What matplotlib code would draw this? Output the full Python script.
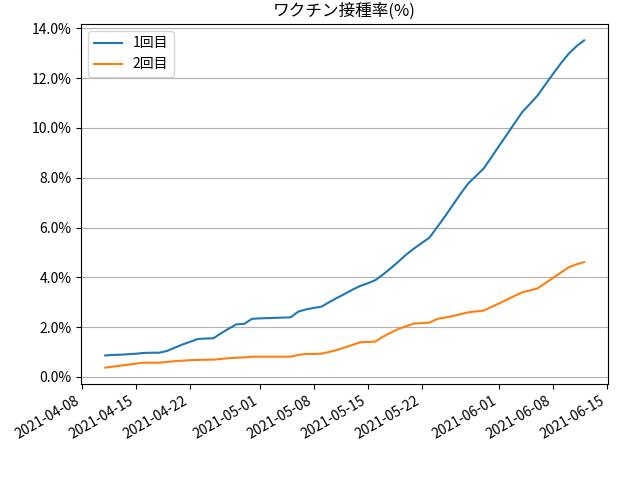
import pandas as pd
import matplotlib
matplotlib.use('Agg')
import matplotlib.pyplot as plt
from matplotlib.ticker import PercentFormatter

plt.rcParams['font.family'] = ['Noto Sans CJK JP', 'DejaVu Sans']

dates = pd.date_range('2021-04-11', '2021-06-12', freq='D')

# 接種率 (%)
first_dose = [
    0.86, 0.88, 0.89, 0.91, 0.93, 0.96, 0.97, 0.97, 1.04, 1.17,
    1.30, 1.41, 1.52, 1.54, 1.55, 1.75, 1.94, 2.11, 2.13, 2.33,
    2.35, 2.36, 2.37, 2.38, 2.39, 2.62, 2.71, 2.77, 2.82, 3.00,
    3.17, 3.33, 3.50, 3.65, 3.76, 3.89, 4.12, 4.37, 4.64, 4.92,
    5.16, 5.38, 5.60, 6.02, 6.45, 6.90, 7.35, 7.77, 8.07, 8.37,
    8.82, 9.28, 9.73, 10.19, 10.64, 10.97, 11.31, 11.75, 12.18, 12.60,
    12.98, 13.28, 13.52,
]
second_dose = [
    0.37, 0.41, 0.45, 0.49, 0.53, 0.57, 0.57, 0.57, 0.60, 0.63,
    0.65, 0.67, 0.68, 0.69, 0.69, 0.72, 0.75, 0.77, 0.78, 0.81,
    0.81, 0.81, 0.81, 0.81, 0.81, 0.88, 0.92, 0.92, 0.93, 1.00,
    1.08, 1.18, 1.28, 1.39, 1.40, 1.42, 1.62, 1.78, 1.93, 2.04,
    2.14, 2.16, 2.18, 2.33, 2.38, 2.44, 2.52, 2.59, 2.63, 2.66,
    2.81, 2.95, 3.10, 3.25, 3.40, 3.47, 3.56, 3.77, 3.98, 4.19,
    4.40, 4.52, 4.61,
]

fig, ax = plt.subplots(figsize=(6.4, 4.8), dpi=100)
ax.plot(dates, first_dose, label='1回目')
ax.plot(dates, second_dose, label='2回目')

ax.set_title('ワクチン接種率(%)')
ax.yaxis.set_major_formatter(PercentFormatter(100, decimals=1))
ax.grid(axis='y')
ax.legend(loc='upper left')

fig.autofmt_xdate()
fig.subplots_adjust(left=0.127, right=0.95, top=0.95, bottom=0.2)

plt.savefig('out.png')
